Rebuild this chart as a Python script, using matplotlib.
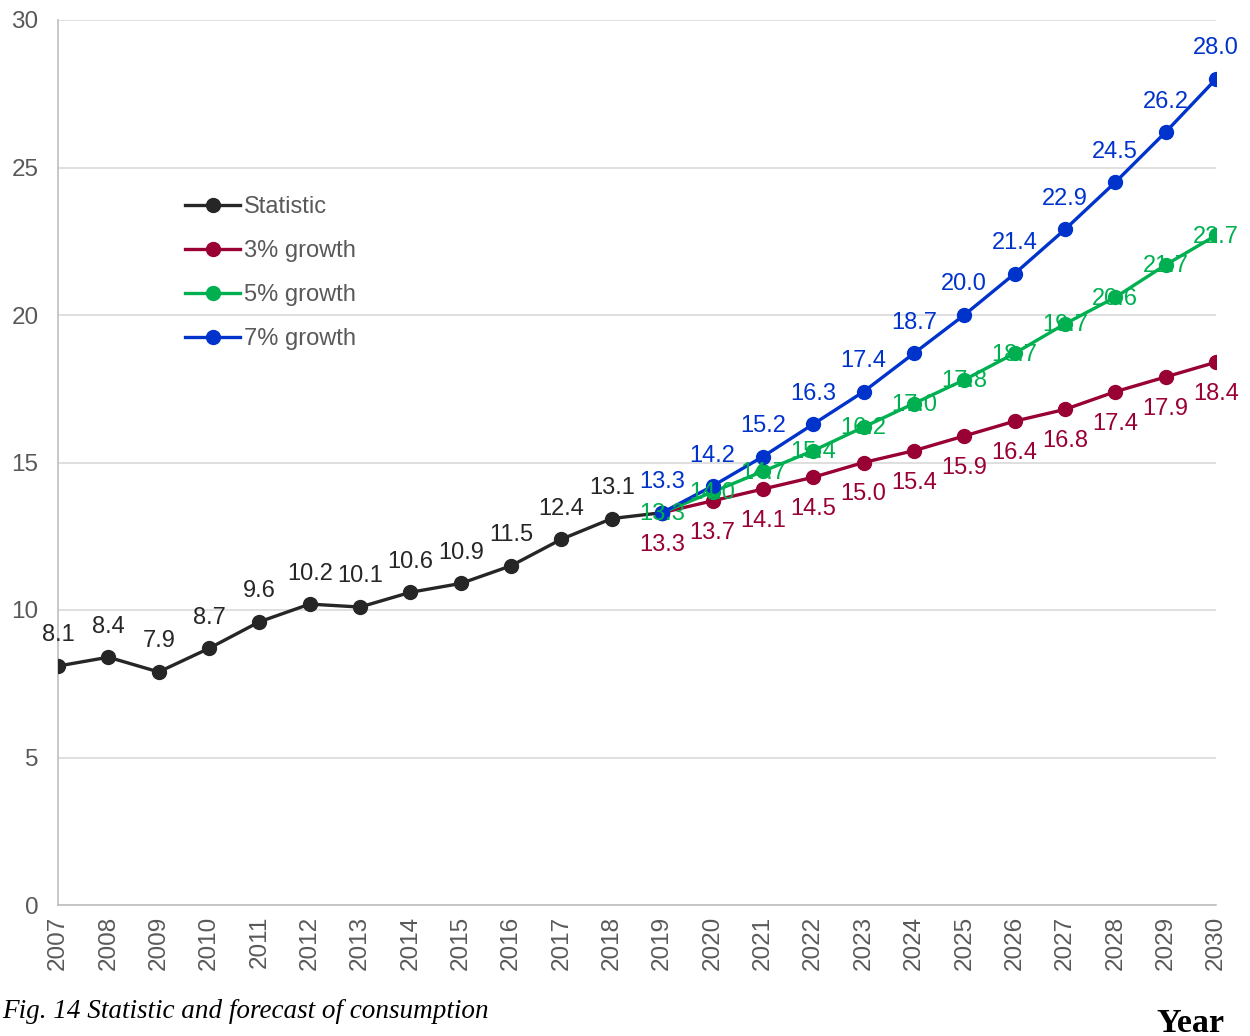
import matplotlib.pyplot as plt

plt.rcParams["font.family"] = ["Liberation Sans", "DejaVu Sans"]

# Data
stat_years = list(range(2007, 2020))
stat_vals = [8.1, 8.4, 7.9, 8.7, 9.6, 10.2, 10.1, 10.6, 10.9, 11.5, 12.4, 13.1, 13.3]

fc_years = list(range(2019, 2031))
g3_vals = [13.3, 13.7, 14.1, 14.5, 15.0, 15.4, 15.9, 16.4, 16.8, 17.4, 17.9, 18.4]
g5_vals = [13.3, 14.0, 14.7, 15.4, 16.2, 17.0, 17.8, 18.7, 19.7, 20.6, 21.7, 22.7]
g7_vals = [13.3, 14.2, 15.2, 16.3, 17.4, 18.7, 20.0, 21.4, 22.9, 24.5, 26.2, 28.0]

c_stat = "#262626"
c_3 = "#990033"
c_5 = "#00B050"
c_7 = "#0033CC"

fig = plt.figure(figsize=(12.5, 10.36), dpi=100)
ax = fig.add_axes([58 / 1250, 131 / 1036, 1158 / 1250, 885 / 1036])

lw = 2.4
ms = 10
ax.plot(stat_years, stat_vals, color=c_stat, lw=lw, marker="o", ms=ms, label="Statistic", zorder=3)
ax.plot(fc_years, g3_vals, color=c_3, lw=lw, marker="o", ms=ms, label="3% growth", zorder=3)
ax.plot(fc_years, g5_vals, color=c_5, lw=lw, marker="o", ms=ms, label="5% growth", zorder=3)
ax.plot(fc_years, g7_vals, color=c_7, lw=lw, marker="o", ms=ms, label="7% growth", zorder=3)

fs = 17
# Statistic labels above (skip last, covered by forecast)
for x, y in zip(stat_years[:-1], stat_vals[:-1]):
    ax.annotate(f"{y:.1f}", (x, y), xytext=(0, 22), textcoords="offset points",
                ha="center", va="center", fontsize=fs, color=c_stat, zorder=4)
# 3% labels below
for x, y in zip(fc_years, g3_vals):
    ax.annotate(f"{y:.1f}", (x, y), xytext=(0, -23), textcoords="offset points",
                ha="center", va="center", fontsize=fs, color=c_3, zorder=4)
# 5% labels centred on the points
for x, y in zip(fc_years, g5_vals):
    ax.annotate(f"{y:.1f}", (x, y), xytext=(0, -1), textcoords="offset points",
                ha="center", va="center", fontsize=fs, color=c_5, zorder=4)
# 7% labels above
for x, y in zip(fc_years, g7_vals):
    ax.annotate(f"{y:.1f}", (x, y), xytext=(0, 22), textcoords="offset points",
                ha="center", va="center", fontsize=fs, color=c_7, zorder=4)

ax.set_xlim(2007, 2030)
ax.set_ylim(0, 30)
ax.set_yticks(range(0, 31, 5))
ax.set_xticks(range(2007, 2031))
ax.set_xticklabels([str(y) for y in range(2007, 2031)], rotation=90)
ax.tick_params(axis="both", length=0, labelsize=17.5, labelcolor="#595959")
ax.tick_params(axis="x", pad=8)
ax.tick_params(axis="y", pad=14)
ax.grid(axis="y", color="#D9D9D9", lw=1.2, zorder=0)
ax.set_axisbelow(True)
for side in ["top", "right"]:
    ax.spines[side].set_visible(False)
for side in ["left", "bottom"]:
    ax.spines[side].set_color("#BFBFBF")
    ax.spines[side].set_linewidth(1.2)

leg = ax.legend(loc="upper left", bbox_to_anchor=(0.1097, 0.8007), frameon=False,
                fontsize=fs, handlelength=2.33, handletextpad=0.17, labelspacing=0.93,
                borderpad=0, borderaxespad=0)
for t in leg.get_texts():
    t.set_color("#595959")

fig.text(0.002, 1 - 1011 / 1036, "Fig. 14 Statistic and forecast of consumption",
         family="Liberation Serif", style="italic", fontsize=19.5, va="center", ha="left")
fig.text(1190 / 1250, 1 - 1023 / 1036, "Year", family="Liberation Serif",
         weight="bold", fontsize=24.5, va="center", ha="center")

fig.savefig("out.png", dpi=100)
